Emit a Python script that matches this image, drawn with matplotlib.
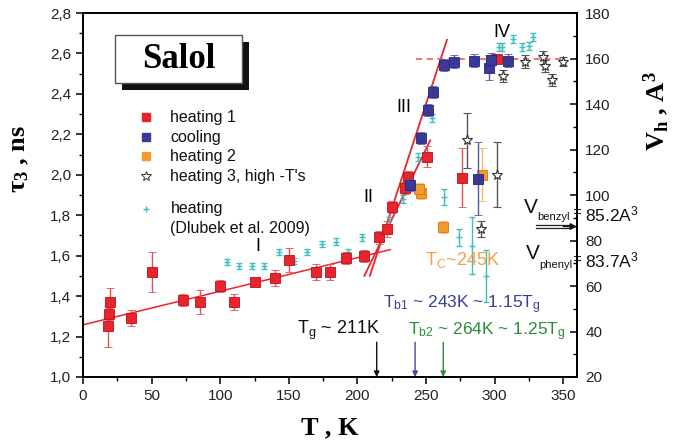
import matplotlib
matplotlib.use("Agg")
import matplotlib.pyplot as plt
from matplotlib.patches import Rectangle
from matplotlib.ticker import MultipleLocator

plt.rcParams['font.family'] = ['Liberation Sans', 'DejaVu Sans']
plt.rcParams['mathtext.fontset'] = 'custom'
plt.rcParams['mathtext.rm'] = 'Liberation Sans'
plt.rcParams['mathtext.it'] = 'Liberation Sans:italic'
plt.rcParams['mathtext.bf'] = 'Liberation Sans:bold'

# ---------------- data ----------------
h1_T = [18, 19, 20, 35, 50, 73, 85, 100, 110, 125, 140, 150, 170, 180, 192, 205,
        215.5, 221.5, 225.5, 235, 237, 250.5, 276.5, 302]
h1_tau = [1.25, 1.31, 1.37, 1.29, 1.52, 1.38, 1.37, 1.45, 1.37, 1.47, 1.49, 1.58,
          1.52, 1.52, 1.59, 1.60, 1.69, 1.73, 1.84, 1.935, 1.99, 2.09, 1.985, 2.575]
h1_err = [0.10, 0.03, 0.07, 0.04, 0.10, 0.03, 0.06, 0.03, 0.04, 0.02, 0.04, 0.06,
          0.04, 0.04, 0.03, 0.03, 0.03, 0.04, 0.03, 0.03, 0.03, 0.05, 0.145, 0.02]

cool_T = [238.5, 246.5, 251.7, 255, 262.7, 270, 284.7, 288, 295.6, 297.3, 310]
cool_tau = [1.95, 2.18, 2.32, 2.41, 2.545, 2.56, 2.565, 1.98, 2.53, 2.57, 2.565]
cool_err = [0.03, 0.03, 0.03, 0.03, 0.03, 0.03, 0.03, 0.18, 0.06, 0.03, 0.03]

h2_T = [246, 245, 262, 291]
h2_tau = [1.91, 1.93, 1.74, 2.00]
h2_err = [0.03, 0.03, 0.03, 0.13]

h3_T = [279.5, 290, 302, 306, 322, 335, 337, 342, 350]
h3_tau = [2.17, 1.73, 2.00, 2.49, 2.56, 2.58, 2.54, 2.47, 2.56]
h3_err = [0.135, 0.04, 0.16, 0.03, 0.03, 0.03, 0.03, 0.03, 0.02]

dl_T = [105, 114, 123, 132, 143, 154, 163, 174, 184, 193, 203, 223, 233, 244,
        254.5, 263, 274, 283.5, 294, 303, 305.5, 313.5, 320, 325, 328]
dl_tau = [1.57, 1.55, 1.55, 1.55, 1.62, 1.575, 1.62, 1.66, 1.67, 1.62, 1.69, 1.77,
          1.88, 2.09, 2.28, 1.89, 1.69, 1.65, 1.50, 2.63, 2.63, 2.67, 2.63, 2.635, 2.68]
dl_err = [0.015, 0.015, 0.015, 0.015, 0.015, 0.015, 0.015, 0.015, 0.015, 0.015, 0.015,
          0.02, 0.02, 0.02, 0.02, 0.04, 0.04, 0.14, 0.13, 0.02, 0.02, 0.02, 0.02, 0.02, 0.02]

lineI_T = [0, 224];      lineI_tau = [1.258, 1.63]
lineII_T = [205, 253];   lineII_tau = [1.50, 2.17]
lineIII_T = [209, 265.2]; lineIII_tau = [1.50, 2.667]
plateau_T = [243, 352];  plateau_tau = [2.575, 2.575]

x_ticks = [0, 50, 100, 150, 200, 250, 300, 350]
y_ticks = [1.0, 1.2, 1.4, 1.6, 1.8, 2.0, 2.2, 2.4, 2.6, 2.8]
y_ticklabels = ['1,0', '1,2', '1,4', '1,6', '1,8', '2,0', '2,2', '2,4', '2,6', '2,8']
v_ticks = [20, 40, 60, 80, 100, 120, 140, 160, 180]

arrow_T = [214, 242, 262.5]
arrow_colors = ['#111111', '#4a4a9a', '#2e8b3a']

# ---------------- figure ----------------
fig = plt.figure(figsize=(6.76, 4.47), dpi=100)
ax = fig.add_axes([0.1228, 0.1566, 0.7308, 0.8143])
ax.set_xlim(0, 360)
ax.set_ylim(1.0, 2.8)

red = '#e8252d'
blue = '#3a3a96'
orange = '#f39a2a'
cyan = '#3fbfbf'

# lines
ax.plot(lineI_T, lineI_tau, color=red, lw=1.1, zorder=2)
ax.plot(lineII_T, lineII_tau, color=red, lw=1.3, zorder=2)
ax.plot(lineIII_T, lineIII_tau, color=red, lw=1.3, zorder=2)
ax.plot(plateau_T, plateau_tau, color='#e85050', lw=1.1, ls=(0, (4, 3)), zorder=2)

# data
ax.errorbar(dl_T, dl_tau, yerr=dl_err, fmt='+', ms=4, mew=1.0, color=cyan,
            ecolor=cyan, elinewidth=1.0, capsize=2.5, zorder=3)
ax.errorbar(h1_T, h1_tau, yerr=h1_err, fmt='s', ms=6.5, mfc=red, mec='#b5121c',
            mew=0.6, ecolor='#e0505a', elinewidth=1.0, capsize=3, zorder=4)
ax.errorbar(h2_T, h2_tau, yerr=h2_err, fmt='s', ms=6.5, mfc=orange, mec='#d07a18',
            mew=0.6, ecolor='#f5b467', elinewidth=1.0, capsize=3, zorder=4)
ax.errorbar(cool_T, cool_tau, yerr=cool_err, fmt='s', ms=6.5, mfc=blue, mec='#25257a',
            mew=0.6, ecolor='#5656a8', elinewidth=1.0, capsize=3, zorder=5)
ax.errorbar(h3_T, h3_tau, yerr=h3_err, fmt='*', ms=8, mfc='white', mec='#333333',
            mew=0.8, ecolor='#555555', elinewidth=1.0, capsize=3, zorder=5)

# axes styling
for s in ax.spines.values():
    s.set_linewidth(1.3)
ax.set_xticks(x_ticks)
ax.xaxis.set_minor_locator(MultipleLocator(25))
ax.set_yticks(y_ticks)
ax.set_yticklabels(y_ticklabels)
ax.yaxis.set_minor_locator(MultipleLocator(0.1))
ax.tick_params(axis='both', which='major', direction='out', length=5, width=1.1,
               labelsize=11, labelcolor='#222222', top=False)
ax.tick_params(axis='both', which='minor', direction='out', length=3, width=1.0, top=False)

ax2 = ax.twinx()
ax2.set_ylim(20, 180)
ax2.set_yticks(v_ticks)
ax2.yaxis.set_minor_locator(MultipleLocator(10))
ax2.tick_params(axis='y', which='major', direction='in', length=5, width=1.1,
                labelsize=11, labelcolor='#222222', pad=6)
ax2.tick_params(axis='y', which='minor', direction='in', length=3, width=1.0)
for s in ax2.spines.values():
    s.set_linewidth(1.3)

# axis labels
ax.set_xlabel('T , K', fontsize=19, fontweight='bold', family='Liberation Serif', labelpad=10)
ax.set_ylabel(r'$\mathregular{\tau_3}$ , ns', fontsize=19, fontweight='bold',
              family='Liberation Serif')
ax.yaxis.set_label_coords(-0.105, 0.6)
ax2.set_ylabel(r'$\mathregular{V_h}$ , $\mathregular{A^3}$', fontsize=19, fontweight='bold',
               family='Liberation Serif', rotation=90)
ax2.yaxis.set_label_coords(1.13, 0.73)

# Salol box
ax.add_patch(Rectangle((0.078, 0.789), 0.257, 0.132, transform=ax.transAxes,
                       facecolor='#111111', edgecolor='none', zorder=6, clip_on=False))
ax.add_patch(Rectangle((0.065, 0.808), 0.257, 0.132, transform=ax.transAxes,
                       facecolor='white', edgecolor='#555555', lw=1.0, zorder=7, clip_on=False))
ax.text(0.193, 0.872, 'Salol', transform=ax.transAxes, fontsize=25, fontweight='bold',
        family='Liberation Serif', ha='center', va='center', zorder=8)

# legend (manual)
leg_y = [0.714, 0.659, 0.607, 0.552]
leg_lab = ['heating 1', 'cooling', 'heating 2', "heating 3, high -T's"]
leg_sty = [dict(marker='s', ms=6, mfc=red, mec=red),
           dict(marker='s', ms=6, mfc=blue, mec=blue),
           dict(marker='s', ms=6, mfc=orange, mec=orange),
           dict(marker='*', ms=7, mfc='white', mec='#333333', mew=0.7)]
for yy, lab, st in zip(leg_y, leg_lab, leg_sty):
    ax.plot([0.1275], [yy], transform=ax.transAxes, ls='none', **st)
    ax.text(0.176, yy, lab, transform=ax.transAxes, fontsize=11.5, va='center', color='#111111')
ax.plot([0.1275], [0.462], transform=ax.transAxes, ls='none', marker='+', ms=5, color=cyan, mew=1.0)
ax.text(0.178, 0.462, 'heating', transform=ax.transAxes, fontsize=11.5, va='center', color='#111111')
ax.text(0.176, 0.408, '(Dlubek et al. 2009)', transform=ax.transAxes, fontsize=11.5,
        va='center', color='#111111')

# region labels
ax.text(127.6, 1.645, 'I', fontsize=13, ha='center', va='center')
ax.text(208, 1.89, 'II', fontsize=13, ha='center', va='center')
ax.text(233.5, 2.335, 'III', fontsize=13, ha='center', va='center')
ax.text(305.5, 2.705, 'IV', fontsize=13, ha='center', va='center')

# temperature annotations
ax.text(156, 1.232, r'$\mathregular{T_g}$ ~ 211K', fontsize=13, va='center', color='#111111')
ax.text(218.5, 1.356, r'$\mathregular{T_{b1}}$ ~ 243K ~ 1.15$\mathregular{T_g}$', fontsize=12.5,
        va='center', color='#3c3f98')
ax.text(237, 1.222, r'$\mathregular{T_{b2}}$ ~ 264K ~ 1.25$\mathregular{T_g}$', fontsize=12.5,
        va='center', color='#2e8b3a')
ax.text(249.5, 1.58, r'$\mathregular{T_C}$~245K', fontsize=13, va='center', color='#f2a04a')

for xt, c in zip(arrow_T, arrow_colors):
    ax.annotate('', xy=(xt, 1.0), xytext=(xt, 1.172),
                arrowprops=dict(arrowstyle='-|>', color=c, lw=1.0, mutation_scale=8,
                                shrinkA=0, shrinkB=0))

# V labels
ax.text(321, 1.84, 'V', fontsize=15, va='center', color='#111111')
ax.text(331, 1.79, 'benzyl', fontsize=8, va='center', color='#111111')
ax.text(323, 1.61, 'V', fontsize=15, va='center', color='#111111')
ax.text(332.5, 1.556, 'phenyl', fontsize=8, va='center', color='#111111')
ax.text(366, 1.805, r'85.2$\mathregular{A^3}$', fontsize=12.5, va='center', color='#111111', clip_on=False)
ax.text(366, 1.578, r'83.7$\mathregular{A^3}$', fontsize=12.5, va='center', color='#111111', clip_on=False)
ax.plot([330, 355], [1.752, 1.752], color='#222222', lw=0.9, clip_on=False)
ax.plot([330, 355], [1.736, 1.736], color='#222222', lw=0.9, clip_on=False)
ax.annotate('', xy=(360, 1.744), xytext=(350, 1.744),
            arrowprops=dict(arrowstyle='-|>', color='#111111', lw=0.9, mutation_scale=10,
                            shrinkA=0, shrinkB=0), annotation_clip=False)
for yy in [1.81, 1.83, 1.58, 1.60]:
    ax.plot([357.5, 362.5], [yy, yy], color='#222222', lw=0.8, clip_on=False)

fig.savefig('out.png', dpi=100)
